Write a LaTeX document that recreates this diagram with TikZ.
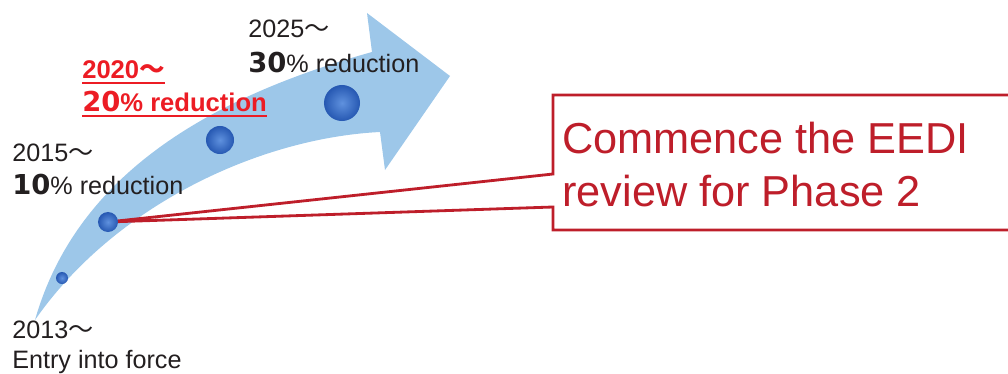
\documentclass[tikz,border=0pt]{standalone}
\usepackage{fontspec}
\setmainfont{Liberation Sans}
\newfontfamily\cjkfont{Noto Sans CJK JP}
\newfontfamily\digitfont{DejaVu Sans}
\newcommand\kara{{\cjkfont ～}}
\newcommand\bigdigits[1]{{\digitfont\bfseries\fontsize{19.5}{20}\selectfont #1}}
\definecolor{arrowblue}{RGB}{157,199,233}
\definecolor{balllight}{RGB}{95,145,222}
\definecolor{balldark}{RGB}{38,88,178}
\definecolor{boxred}{RGB}{190,30,42}
\definecolor{hotred}{RGB}{236,28,36}
\definecolor{ink}{RGB}{35,31,32}
\begin{document}
\begin{tikzpicture}[x=0.025cm, y=-0.025cm,
  ball node/.style={circle,inner sep=0pt,shading=radial,inner color=balllight,outer color=balldark},
  year node/.style={anchor=base west,inner sep=0pt,text=ink,font=\fontsize{17.9}{20}\selectfont},
  hot node/.style={year node,text=hotred,font=\fontsize{18.2}{20}\selectfont\bfseries},
  box node/.style={anchor=base west,inner sep=0pt,text=boxred,font=\fontsize{30.8}{37}\selectfont}]
\clip (0,0) rectangle (1008,374);
% the sweeping arrow
\fill[arrowblue] (35,320) .. controls (75,180) and (200,100) .. (372,52)
  -- (367,13) -- (450,76) -- (385,170) -- (380,132)
  .. controls (260,138) and (115,205) .. (35,320) -- cycle;
\coordinate (p2013) at (62,278);
\coordinate (p2015) at (108,222);
\coordinate (p2020) at (220,140);
\coordinate (p2025) at (342,103);
% callout box
\coordinate (w1) at (553,174);
\coordinate (w2) at (553,207);
\draw[boxred,line width=2pt,fill=white,line join=miter]
  (w1) -- (553,95) -- (1025,95) -- (1025,230) -- (553,230) -- (w2) -- (p2015) -- cycle;
\node[box node] (c1) at (562,153) {Commence the EEDI};
\node[box node] (c2) at (562,206) {review for Phase 2};
\begin{scope}[every node/.style={ball node}]
\node[minimum size=0.3cm] (b1) at (p2013) {};
\node[minimum size=0.5cm] (b2) at (p2015) {};
\node[minimum size=0.7cm] (b3) at (p2020) {};
\node[minimum size=0.9cm] (b4) at (p2025) {};
\end{scope}
\node[year node] (y2013) at (12,338) {2013\kara};
\node[year node] (t2013) at (12,368) {Entry into force};
\node[year node] (y2015) at (12,162) {2015\kara};
\node[year node] (t2015) at (12,195) {\bigdigits{10}\% reduction};
\node[hot node] (y2020) at (82,79) {2020{\cjkfont\bfseries ～}};
\node[hot node] (t2020) at (82,112) {\bigdigits{20}\% reduction};
\node[year node] (y2025) at (248,38) {2025\kara};
\node[year node] (t2025) at (248,73) {\bigdigits{30}\% reduction};
\draw[hotred,line width=1.4pt] ([yshift=-2.8pt]y2020.base west) -- ([yshift=-2.8pt]y2020.base east);
\draw[hotred,line width=1.4pt] ([yshift=-2.8pt]t2020.base west) -- ([yshift=-2.8pt]t2020.base east);
\end{tikzpicture}
\end{document}
